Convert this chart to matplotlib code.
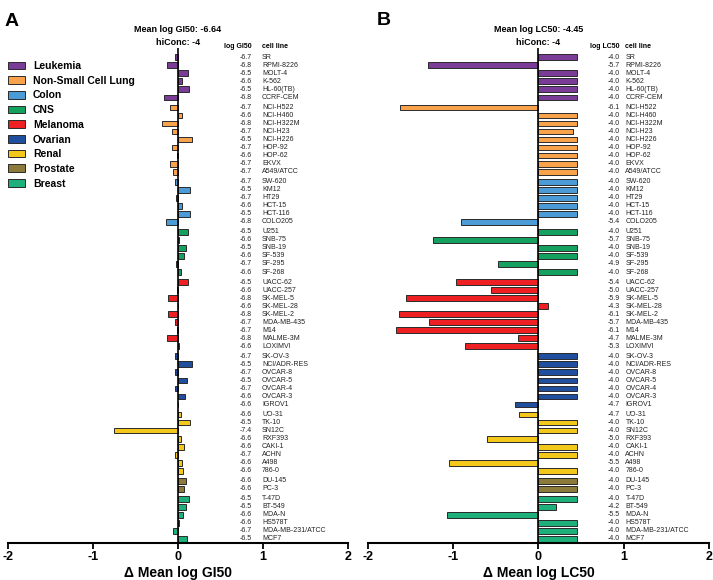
import numpy as np
import matplotlib
matplotlib.use("Agg")
import matplotlib.pyplot as plt

plt.rcParams['font.family'] = ['Liberation Sans', 'DejaVu Sans']
plt.rcParams['axes.unicode_minus'] = False

# Tissue groups
tissues = ["Leukemia", "Non-Small Cell Lung", "Colon", "CNS", "Melanoma",
           "Ovarian", "Renal", "Prostate", "Breast"]
tissue_counts = [6, 9, 6, 6, 9, 7, 8, 2, 6]
tissue_colors = ["#7b3c98", "#f8a24c", "#4b9cd6", "#14a05f", "#ee2024",
                 "#1f4f9e", "#f3c81b", "#8c7a3a", "#1db07b"]

cell_lines = [
    "SR", "RPMI-8226", "MOLT-4", "K-562", "HL-60(TB)", "CCRF-CEM",
    "NCI-H522", "NCI-H460", "NCI-H322M", "NCI-H23", "NCI-H226", "HOP-92",
    "HOP-62", "EKVX", "A549/ATCC",
    "SW-620", "KM12", "HT29", "HCT-15", "HCT-116", "COLO205",
    "U251", "SNB-75", "SNB-19", "SF-539", "SF-295", "SF-268",
    "UACC-62", "UACC-257", "SK-MEL-5", "SK-MEL-28", "SK-MEL-2", "MDA-MB-435",
    "M14", "MALME-3M", "LOXIMVI",
    "SK-OV-3", "NCI/ADR-RES", "OVCAR-8", "OVCAR-5", "OVCAR-4", "OVCAR-3", "IGROV1",
    "UO-31", "TK-10", "SN12C", "RXF393", "CAKI-1", "ACHN", "A498", "786-0",
    "DU-145", "PC-3",
    "T-47D", "BT-549", "MDA-N", "HS578T", "MDA-MB-231/ATCC", "MCF7",
]

# Panel A: log GI50
gi50_mean = -6.64
gi50_labels = [
    -6.7, -6.8, -6.5, -6.6, -6.5, -6.8,
    -6.7, -6.6, -6.8, -6.7, -6.5, -6.7, -6.6, -6.7, -6.7,
    -6.7, -6.5, -6.7, -6.6, -6.5, -6.8,
    -6.5, -6.6, -6.5, -6.6, -6.7, -6.6,
    -6.5, -6.6, -6.8, -6.6, -6.8, -6.7, -6.7, -6.8, -6.6,
    -6.7, -6.5, -6.7, -6.5, -6.7, -6.6, -6.6,
    -6.6, -6.5, -7.4, -6.6, -6.6, -6.7, -6.6, -6.6,
    -6.6, -6.6,
    -6.5, -6.5, -6.6, -6.6, -6.7, -6.5,
]
gi50_delta = [
    -0.04, -0.13, 0.12, 0.05, 0.13, -0.17,
    -0.09, 0.05, -0.19, -0.07, 0.16, -0.07, -0.01, -0.09, -0.06,
    -0.035, 0.14, -0.02, 0.05, 0.14, -0.14,
    0.12, 0.01, 0.10, 0.07, -0.02, 0.03,
    0.12, -0.01, -0.12, 0.0, -0.12, -0.03, -0.015, -0.13, 0.015,
    -0.035, 0.17, -0.03, 0.11, -0.04, 0.08, 0.0,
    0.035, 0.14, -0.75, 0.03, 0.07, -0.035, 0.05, 0.06,
    0.09, 0.07,
    0.13, 0.10, 0.06, 0.01, -0.06, 0.11,
]

# Panel B: log LC50
lc50_mean = -4.45
lc50_labels = [
    -4.0, -5.7, -4.0, -4.0, -4.0, -4.0,
    -6.1, -4.0, -4.0, -4.0, -4.0, -4.0, -4.0, -4.0, -4.0,
    -4.0, -4.0, -4.0, -4.0, -4.0, -5.4,
    -4.0, -5.7, -4.0, -4.0, -4.9, -4.0,
    -5.4, -5.0, -5.9, -4.3, -6.1, -5.7, -6.1, -4.7, -5.3,
    -4.0, -4.0, -4.0, -4.0, -4.0, -4.0, -4.7,
    -4.7, -4.0, -4.0, -5.0, -4.0, -4.0, -5.5, -4.0,
    -4.0, -4.0,
    -4.0, -4.2, -5.5, -4.0, -4.0, -4.0,
]
lc50_delta = [
    0.45, -1.30, 0.45, 0.45, 0.45, 0.45,
    -1.62, 0.45, 0.45, 0.40, 0.45, 0.45, 0.45, 0.45, 0.45,
    0.45, 0.45, 0.45, 0.45, 0.45, -0.91,
    0.45, -1.24, 0.45, 0.45, -0.47, 0.45,
    -0.97, -0.56, -1.55, 0.11, -1.64, -1.28, -1.67, -0.24, -0.86,
    0.45, 0.45, 0.45, 0.45, 0.45, 0.45, -0.28,
    -0.23, 0.45, 0.45, -0.60, 0.45, 0.45, -1.05, 0.45,
    0.45, 0.45,
    0.45, 0.21, -1.07, 0.45, 0.45, 0.45,
]

# row positions with a small gap between tissue groups
group_idx = np.repeat(np.arange(len(tissues)), tissue_counts)
ypos = np.arange(len(cell_lines)) + 0.25 * group_idx


def draw_panel(ax, deltas, labels, mean_val, name, val_x, name_x):
    deltas = np.array(deltas)
    start = 0
    for g, n in enumerate(tissue_counts):
        sl = slice(start, start + n)
        ax.barh(ypos[sl], deltas[sl], height=0.72, color=tissue_colors[g],
                edgecolor="#2a2a2a", linewidth=0.7, label=tissues[g], zorder=2)
        start += n
    ax.axvline(0, color="black", lw=1.2, zorder=3)

    for y, v, c in zip(ypos, labels, cell_lines):
        ax.text(val_x, y, f"{v:.1f}", ha="right", va="center", fontsize=5,
                color="#222222")
        ax.text(name_x, y, c, ha="left", va="center", fontsize=5,
                color="#222222")
    ax.text(val_x, -1.4, f"log {name}", ha="right", va="center", fontsize=5,
            fontweight="bold", clip_on=False)
    ax.text(name_x, -1.4, "cell line", ha="left", va="center", fontsize=5,
            fontweight="bold", clip_on=False)
    ax.text(0, -3.5, f"Mean log {name}: {mean_val:.2f}", ha="center",
            va="center", fontsize=6.5, fontweight="bold", clip_on=False)
    ax.text(0, -1.8, "hiConc: -4", ha="center", va="center", fontsize=6.5,
            fontweight="bold", clip_on=False)

    ax.set_xlim(-2, 2)
    ax.set_ylim(ypos[-1] + 0.5, -1.12)
    ax.set_xticks([-2, -1, 0, 1, 2])
    ax.set_yticks([])
    for s in ["left", "right", "top"]:
        ax.spines[s].set_visible(False)
    ax.spines["bottom"].set_linewidth(1.5)
    ax.tick_params(axis="x", length=4, width=1.3, labelsize=9, pad=2)
    for t in ax.get_xticklabels():
        t.set_fontweight("bold")
    ax.set_xlabel(f"\u0394 Mean log {name}", fontsize=10, fontweight="bold",
                  labelpad=2)


fig = plt.figure(figsize=(7.13, 5.80), dpi=100)
axA = fig.add_axes([0.0112, 0.0638, 0.4768, 0.853])
axB = fig.add_axes([0.5161, 0.0638, 0.4783, 0.853])

draw_panel(axA, gi50_delta, gi50_labels, gi50_mean, "GI50", 0.87, 0.99)
draw_panel(axB, lc50_delta, lc50_labels, lc50_mean, "LC50", 0.95, 1.02)

axA.legend(loc="upper left", bbox_to_anchor=(0.0, 0.974), frameon=False,
           borderaxespad=0, borderpad=0, handlelength=1.6,
           handleheight=0.75, handletextpad=0.8, labelspacing=0.45,
           prop={"weight": "bold", "size": 7.5})

fig.text(0.007, 0.978, "A", fontsize=14, fontweight="bold", va="top")
fig.text(0.528, 0.980, "B", fontsize=14, fontweight="bold", va="top")

fig.savefig("out.png", dpi=100)
